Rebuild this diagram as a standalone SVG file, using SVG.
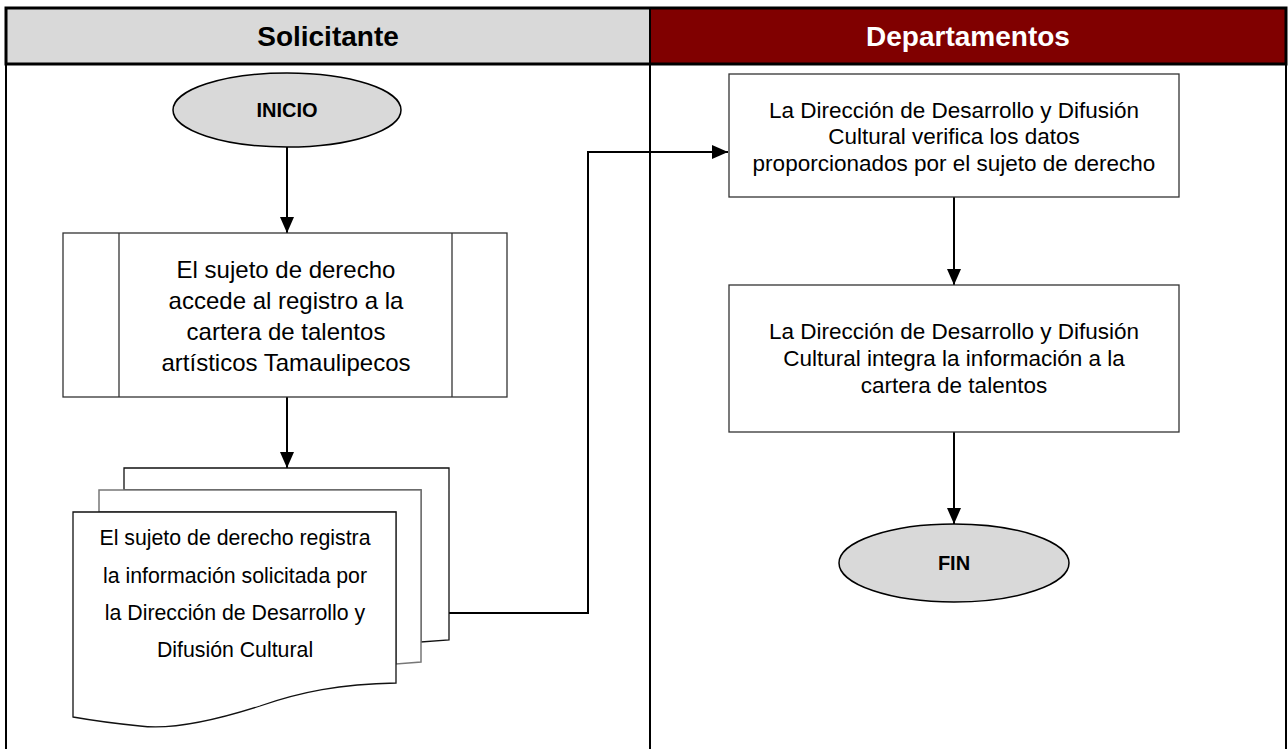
<svg xmlns="http://www.w3.org/2000/svg" width="1288" height="749" viewBox="0 0 1288 749">
<style>
.hdr{font-family:"Liberation Sans",Arial,sans-serif;font-weight:bold;font-size:28px;text-anchor:middle}
.term{font-family:"Liberation Sans",Arial,sans-serif;font-weight:bold;font-size:20px;text-anchor:middle;fill:#000}
.body{font-family:"Liberation Sans",Arial,sans-serif;font-size:22.5px;text-anchor:middle;fill:#000}
.big{font-size:24px}
.doc{font-family:"Liberation Sans",Arial,sans-serif;font-size:21.3px;text-anchor:middle;fill:#000}
.box{fill:#fff;stroke:#333;stroke-width:1.3}
.ell{fill:#d9d9d9;stroke:#000;stroke-width:1.5}
.conn{fill:none;stroke:#000;stroke-width:2}
</style>
<defs>
<marker id="arr" markerUnits="userSpaceOnUse" markerWidth="16" markerHeight="14" refX="16" refY="7" orient="auto">
<path d="M0,0 L16,7 L0,14 Z" fill="#000"/>
</marker>
</defs>
<rect width="1288" height="749" fill="#fff"/>
<g id="lanes">
<rect x="6" y="8" width="644" height="56" fill="#d9d9d9"/>
<rect x="650" y="8" width="636" height="56" fill="#800000"/>
<line x1="6" y1="64" x2="6" y2="749" stroke="#000" stroke-width="2"/>
<line x1="650" y1="64" x2="650" y2="749" stroke="#000" stroke-width="2"/>
<line x1="1286" y1="64" x2="1286" y2="749" stroke="#000" stroke-width="2"/>
<rect x="6" y="8" width="1280" height="56" fill="none" stroke="#000" stroke-width="3"/>
<line x1="650" y1="8" x2="650" y2="64" stroke="#000" stroke-width="2"/>
<text class="hdr" x="328" y="46" fill="#000">Solicitante</text>
<text class="hdr" x="968" y="46" fill="#fff">Departamentos</text>
</g>
<g id="connectors">
<line class="conn" x1="287" y1="147" x2="287" y2="233" marker-end="url(#arr)"/>
<line class="conn" x1="287" y1="397" x2="287" y2="468" marker-end="url(#arr)"/>
<path class="conn" d="M449,613 H588 V152 H728" marker-end="url(#arr)"/>
<line class="conn" x1="954" y1="197" x2="954" y2="285" marker-end="url(#arr)"/>
<line class="conn" x1="954" y1="432" x2="954" y2="524" marker-end="url(#arr)"/>
</g>
<g id="inicio">
<ellipse class="ell" cx="287" cy="110" rx="114" ry="37"/>
<text class="term" x="287" y="117">INICIO</text>
</g>
<g id="accede">
<rect class="box" x="63" y="233" width="444" height="164"/>
<line x1="119" y1="233" x2="119" y2="397" stroke="#333" stroke-width="1.3"/>
<line x1="452" y1="233" x2="452" y2="397" stroke="#333" stroke-width="1.3"/>
<text class="body big" x="286" y="278">El sujeto de derecho</text>
<text class="body big" x="286" y="309">accede al registro a la</text>
<text class="body big" x="286" y="340">cartera de talentos</text>
<text class="body big" x="286" y="371">artísticos Tamaulipecos</text>
</g>
<g id="registra">
<path d="M124,468 H449 V640 L421,642 V490 H124 Z" fill="#fff" stroke="#111" stroke-width="1.3"/>
<path d="M99,490 H421 V662 L396,664 V512 H99 Z" fill="#fff" stroke="#777" stroke-width="1.5"/>
<path d="M73,512 H396 V683 C340,684 300,692 260,706 C210,722 170,730 140,726 C110,723 90,720 73,717 Z" fill="#fff" stroke="#111" stroke-width="1.3"/>
<text class="doc" x="235" y="545">El sujeto de derecho registra</text>
<text class="doc" x="235" y="583">la información solicitada por</text>
<text class="doc" x="235" y="620">la Dirección de Desarrollo y</text>
<text class="doc" x="235" y="657">Difusión Cultural</text>
</g>
<g id="verifica">
<rect class="box" x="729" y="74" width="450" height="123"/>
<text class="body" x="954" y="118">La Dirección de Desarrollo y Difusión</text>
<text class="body" x="954" y="144">Cultural verifica los datos</text>
<text class="body" x="954" y="171">proporcionados por el sujeto de derecho</text>
</g>
<g id="integra">
<rect class="box" x="729" y="285" width="450" height="147"/>
<text class="body" x="954" y="339">La Dirección de Desarrollo y Difusión</text>
<text class="body" x="954" y="366">Cultural integra la información a la</text>
<text class="body" x="954" y="393">cartera de talentos</text>
</g>
<g id="fin">
<ellipse class="ell" cx="954" cy="563" rx="115" ry="39"/>
<text class="term" x="954" y="570">FIN</text>
</g>
</svg>
